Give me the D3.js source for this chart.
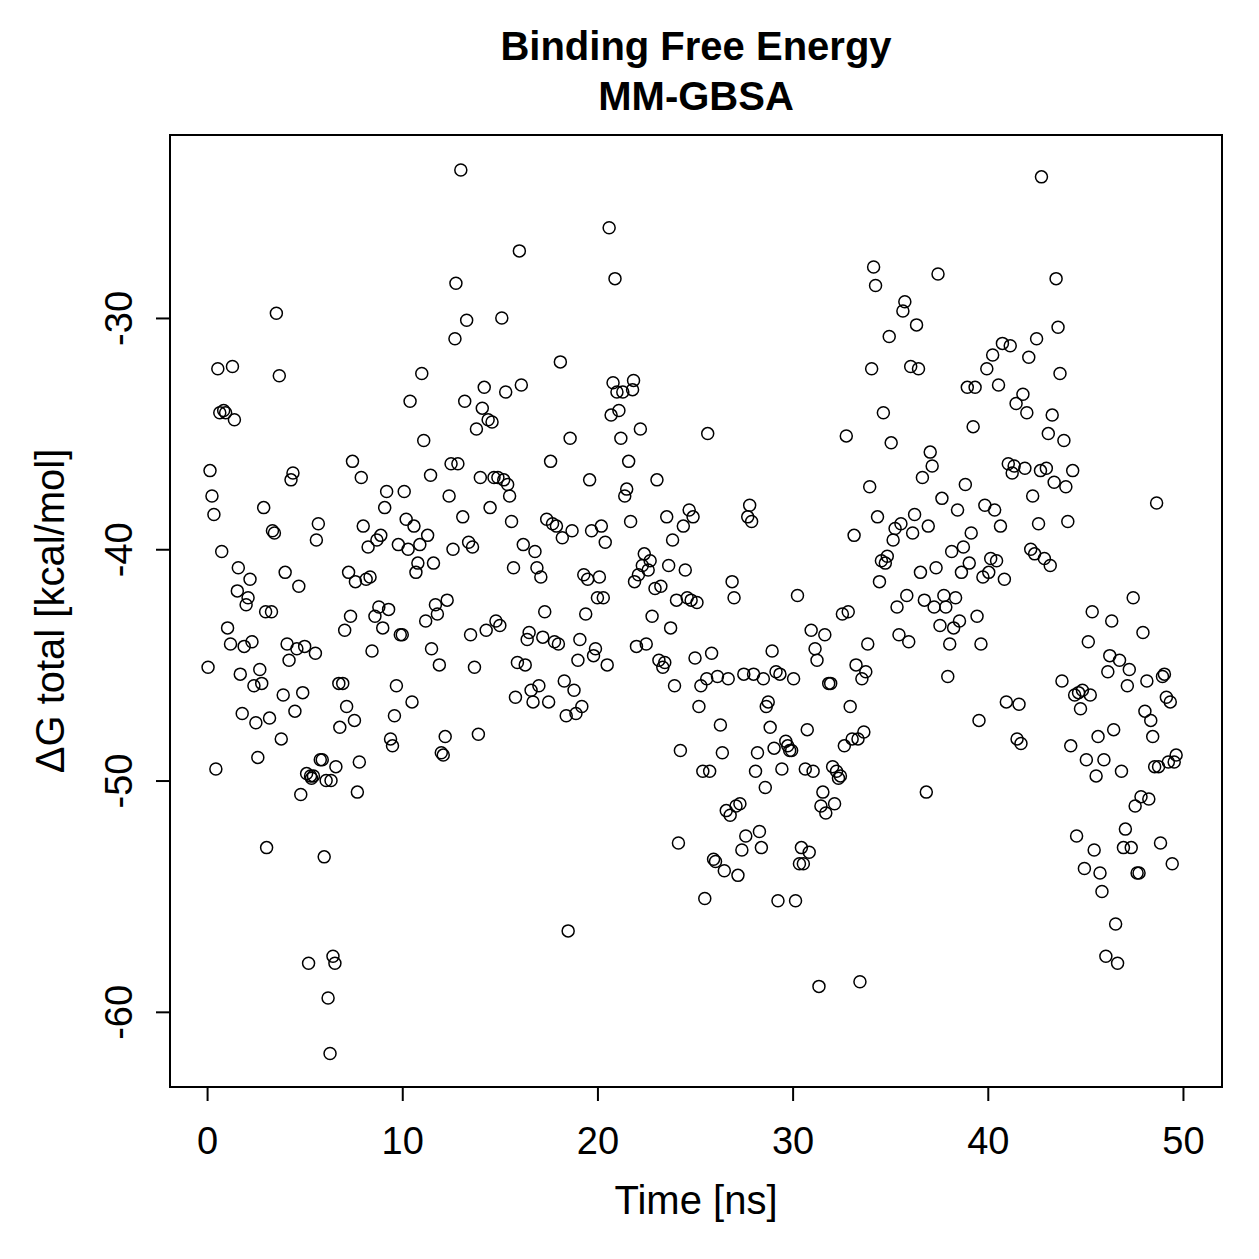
<!DOCTYPE html>
<html lang="en">
  <head>
    <meta charset="utf-8" />
    <title>Binding Free Energy</title>
    <style>
      body { margin: 0; background: #fff; }
      text { font-family: "Liberation Sans", Arial, sans-serif; fill: #000; }
    </style>
    <script src="https://d3js.org/d3.v7.min.js"></script>
  </head>
  <body>
    <script>
      // time in ns
      var timeNs = [
        0.05, 0.15, 0.25, 0.35, 0.45, 0.55, 0.65, 0.75, 0.85, 0.95,
        1.05, 1.2, 1.3, 1.4, 1.55, 1.6, 1.7, 1.8, 1.9, 2.0,
        2.1, 2.2, 2.3, 2.4, 2.5, 2.6, 2.7, 2.8, 2.9, 3.0,
        3.05, 3.2, 3.3, 3.35, 3.45, 3.55, 3.7, 3.8, 3.9, 4.0,
        4.1, 4.2, 4.3, 4.4, 4.5, 4.6, 4.7, 4.8, 4.9, 5.0,
        5.1, 5.2, 5.3, 5.35, 5.45, 5.55, 5.6, 5.7, 5.8, 5.9,
        6.0, 6.1, 6.2, 6.3, 6.35, 6.45, 6.55, 6.6, 6.75, 6.8,
        6.95, 7.05, 7.15, 7.25, 7.35, 7.45, 7.55, 7.6, 7.7, 7.8,
        7.9, 8.0, 8.15, 8.25, 8.35, 8.45, 8.6, 8.7, 8.8, 8.9,
        9.0, 9.1, 9.2, 9.3, 9.4, 9.5, 9.6, 9.7, 9.8, 9.9,
        10.0, 10.1, 10.2, 10.3, 10.4, 10.5, 10.6, 10.7, 10.8, 10.9,
        11.0, 11.1, 11.2, 11.3, 11.45, 11.5, 11.6, 11.7, 11.8, 11.9,
        12.0, 12.1, 12.2, 12.3, 12.4, 12.5, 12.6, 12.7, 12.75, 12.85,
        13.0, 13.1, 13.2, 13.3, 13.4, 13.5, 13.6, 13.7, 13.8, 13.9,
        14.0, 14.1, 14.2, 14.3, 14.4, 14.5, 14.6, 14.7, 14.8, 14.9,
        15.0, 15.1, 15.2, 15.3, 15.4, 15.5, 15.6, 15.7, 15.8, 15.9,
        16.0, 16.1, 16.2, 16.3, 16.4, 16.5, 16.6, 16.7, 16.8, 16.9,
        17.0, 17.1, 17.2, 17.3, 17.4, 17.5, 17.6, 17.7, 17.8, 17.9,
        18.0, 18.1, 18.2, 18.3, 18.4, 18.5, 18.6, 18.7, 18.8, 18.9,
        19.0, 19.1, 19.2, 19.3, 19.4, 19.5, 19.6, 19.7, 19.8, 19.9,
        20.0, 20.1, 20.2, 20.3, 20.4, 20.5, 20.6, 20.7, 20.8, 20.9,
        21.0, 21.1, 21.2, 21.3, 21.4, 21.5, 21.6, 21.7, 21.8, 21.85,
        21.9, 22.0, 22.1, 22.2, 22.3, 22.4, 22.5, 22.6, 22.7, 22.8,
        22.95, 23.05, 23.15, 23.25, 23.35, 23.45, 23.55, 23.65, 23.75, 23.85,
        23.95, 24.05, 24.15, 24.25, 24.4, 24.5, 24.6, 24.7, 24.8, 24.9,
        25.0, 25.1, 25.2, 25.3, 25.4, 25.5, 25.6, 25.65, 25.75, 25.85,
        25.95, 26.05, 26.15, 26.3, 26.4, 26.5, 26.6, 26.7, 26.8, 26.9,
        27.0, 27.1, 27.2, 27.3, 27.4, 27.5, 27.6, 27.7, 27.8, 27.9,
        28.0, 28.1, 28.2, 28.3, 28.4, 28.5, 28.6, 28.65, 28.75, 28.85,
        28.95, 29.05, 29.15, 29.25, 29.35, 29.45, 29.65, 29.75, 29.85, 29.95,
        30.05, 30.15, 30.25, 30.35, 30.45, 30.55, 30.65, 30.75, 30.85, 30.95,
        31.05, 31.15, 31.25, 31.35, 31.45, 31.55, 31.65, 31.7, 31.85, 31.95,
        32.05, 32.15, 32.25, 32.35, 32.45, 32.55, 32.65, 32.75, 32.85, 32.95,
        33.05, 33.15, 33.25, 33.35, 33.45, 33.55, 33.65, 33.75, 33.85, 33.95,
        34.05, 34.15, 34.25, 34.35, 34.45, 34.55, 34.65, 34.75, 34.85, 34.95,
        35.05, 35.15, 35.25, 35.35, 35.45, 35.55, 35.65, 35.75, 35.85, 35.95,
        36.05, 36.15, 36.25, 36.35, 36.45, 36.55, 36.65, 36.75, 36.85, 36.95,
        37.05, 37.15, 37.25, 37.35, 37.45, 37.55, 37.65, 37.75, 37.85, 37.95,
        38.05, 38.15, 38.25, 38.35, 38.45, 38.55, 38.65, 38.75, 38.85, 38.95,
        39.05, 39.15, 39.25, 39.35, 39.45, 39.55, 39.65, 39.75, 39.85, 39.95,
        40.05, 40.15, 40.25, 40.35, 40.45, 40.55, 40.65, 40.75, 40.85, 40.95,
        41.05, 41.15, 41.25, 41.35, 41.45, 41.5, 41.6, 41.7, 41.8, 41.9,
        42.0, 42.1, 42.2, 42.3, 42.4, 42.5, 42.6, 42.7, 42.75, 42.9,
        43.0, 43.1, 43.2, 43.3, 43.4, 43.5, 43.6, 43.7, 43.8, 43.9,
        44.0, 44.1, 44.25, 44.35, 44.45, 44.55, 44.65, 44.75, 44.85, 44.95,
        45.05, 45.15, 45.25, 45.35, 45.45, 45.55, 45.65, 45.75, 45.85, 45.95,
        46.05, 46.15, 46.25, 46.35, 46.45, 46.55, 46.65, 46.75, 46.85, 46.95,
        47.05, 47.15, 47.25, 47.35, 47.45, 47.55, 47.65, 47.75, 47.85, 47.95,
        48.05, 48.15, 48.25, 48.35, 48.45, 48.55, 48.65, 48.75, 48.85, 48.95,
        49.05, 49.15, 49.25, 49.35, 49.45, 49.55, 49.65
      ];

      // delta G total in kcal/mol, same order as timeNs
      var dGtotal = [
        -45.1, -36.6, -37.7, -38.5, -49.5, -32.2, -34.1, -40.1, -34.0, -34.1,
        -43.4, -44.1, -32.1, -34.4, -41.8, -40.8, -45.4, -47.1, -44.2, -42.4,
        -42.1, -41.3, -44.0, -45.9, -47.5, -49.0, -45.2, -45.8, -38.2, -42.7,
        -52.9, -47.3, -42.7, -39.2, -39.3, -29.8, -32.5, -48.2, -46.3, -41.0,
        -44.1, -44.8, -37.0, -36.7, -47.0, -44.3, -41.6, -50.6, -46.2, -44.2,
        -49.7, -57.9, -49.8, -49.9, -49.8, -44.5, -39.6, -38.9, -49.1, -49.1,
        -53.3, -50.0, -59.4, -61.8, -50.0, -57.6, -57.9, -49.4, -45.8, -47.7,
        -45.8, -43.5, -46.8, -41.0, -42.9, -36.2, -47.4, -41.4, -50.5, -49.2,
        -36.9, -39.0, -41.3, -39.9, -41.2, -44.4, -42.9, -39.6, -42.5, -39.4,
        -43.4, -38.2, -37.5, -42.6, -48.2, -48.5, -47.2, -45.9, -39.8, -43.7,
        -43.7, -37.5, -38.7, -40.0, -33.6, -46.6, -39.0, -41.0, -40.6, -39.8,
        -32.4, -35.3, -43.1, -39.4, -36.8, -44.3, -40.6, -42.4, -42.8, -45.0,
        -48.8, -48.9, -48.1, -42.2, -37.7, -36.3, -40.0, -30.9, -28.5, -36.3,
        -23.6, -38.6, -33.6, -30.1, -39.7, -43.7, -39.9, -45.1, -34.8, -48.0,
        -36.9, -33.9, -33.0, -43.5, -34.4, -38.2, -34.5, -36.9, -43.1, -36.9,
        -43.3, -30.0, -37.0, -33.2, -37.2, -37.7, -38.8, -40.8, -46.4, -44.9,
        -27.1, -32.9, -39.8, -45.0, -43.9, -43.6, -46.1, -46.6, -40.1, -40.8,
        -45.9, -41.2, -43.8, -42.7, -38.7, -46.6, -36.2, -38.9, -44.0, -39.0,
        -44.1, -31.9, -39.5, -45.7, -47.2, -56.5, -35.2, -39.2, -46.1, -47.1,
        -44.8, -43.9, -46.8, -41.1, -42.8, -41.3, -37.0, -39.2, -44.6, -44.3,
        -42.1, -41.2, -39.0, -42.1, -39.7, -45.0, -26.1, -34.2, -32.8, -28.3,
        -33.2, -34.0, -35.2, -33.2, -37.7, -37.4, -36.2, -38.8, -33.1, -32.7,
        -41.4, -44.2, -41.1, -34.8, -40.7, -40.2, -44.1, -40.9, -40.5, -42.9,
        -41.7, -37.0, -44.8, -41.6, -45.1, -44.9, -38.6, -40.7, -43.4, -39.6,
        -45.9, -42.2, -52.7, -48.7, -39.0, -40.9, -42.1, -38.3, -42.2, -38.6,
        -44.7, -42.3, -46.8, -45.9, -49.6, -55.1, -45.6, -35.0, -49.6, -44.5,
        -53.4, -53.5, -45.5, -47.6, -48.8, -53.9, -51.3, -45.6, -51.5, -41.4,
        -42.1, -51.1, -54.1, -51.0, -53.0, -45.4, -52.4, -38.6, -38.1, -38.8,
        -45.4, -49.6, -48.8, -52.2, -52.9, -45.6, -50.3, -46.8, -46.6, -47.7,
        -44.4, -48.6, -45.3, -55.2, -45.4, -49.5, -48.3, -48.5, -48.7, -48.7,
        -45.6, -55.2, -42.0, -53.6, -52.9, -53.6, -49.5, -47.8, -53.1, -43.5,
        -49.6, -44.3, -44.8, -58.9, -51.1, -50.5, -43.7, -51.4, -45.8, -45.8,
        -49.4, -51.0, -49.6, -49.9, -49.8, -42.8, -48.5, -35.1, -42.7, -46.8,
        -48.2, -39.4, -45.0, -48.2, -58.7, -45.6, -47.9, -45.3, -44.1, -37.3,
        -32.2, -27.8, -28.6, -38.6, -41.4, -40.5, -34.1, -40.6, -40.3, -30.8,
        -35.4, -39.6, -39.1, -42.5, -43.7, -38.9, -29.7, -29.3, -42.0, -44.0,
        -32.1, -39.3, -38.5, -30.3, -32.2, -41.0, -36.9, -42.2, -50.5, -39.0,
        -35.8, -36.4, -42.5, -40.8, -28.1, -43.3, -37.8, -42.0, -42.5, -45.5,
        -44.1, -40.1, -43.4, -42.1, -38.3, -43.1, -41.0, -39.9, -37.2, -33.0,
        -40.6, -39.3, -34.7, -33.0, -42.9, -47.4, -44.1, -41.2, -38.1, -32.2,
        -41.0, -40.4, -31.6, -38.3, -40.5, -32.9, -39.0, -31.1, -41.3, -46.6,
        -36.3, -31.2, -36.7, -36.4, -33.7, -48.2, -46.7, -48.4, -33.3, -36.5,
        -34.1, -31.7, -40.0, -37.7, -40.2, -30.9, -38.9, -36.6, -23.9, -40.4,
        -36.5, -35.0, -40.7, -34.2, -37.1, -28.3, -30.4, -32.4, -45.7, -35.3,
        -37.3, -38.8, -48.5, -36.6, -46.3, -52.4, -46.2, -46.9, -46.1, -53.8,
        -49.1, -44.0, -46.3, -42.7, -53.0, -49.8, -48.1, -54.0, -54.8, -49.1,
        -57.6, -45.3, -44.6, -43.1, -47.8, -56.2, -57.9, -44.8, -49.6, -52.9,
        -52.1, -45.9, -45.2, -52.9, -42.1, -51.1, -54.0, -54.0, -50.7, -43.6,
        -47.0, -45.7, -50.8, -47.4, -48.1, -49.4, -38.0, -49.4, -52.7, -45.5,
        -45.4, -46.4, -49.2, -46.6, -53.6, -49.2, -48.9
      ];

      var xTicks = [0, 10, 20, 30, 40, 50];
      var yTicks = [-30, -40, -50, -60];
      var titleLines = ["Binding Free Energy", "MM-GBSA"];

      var W = 1259, H = 1259;
      var box = { left: 170, right: 1222, top: 135, bottom: 1087 };
      var fontSize = "40px";
      var tickSize = "38px";

      var svg = d3
        .select("body")
        .append("svg")
        .attr("width", W)
        .attr("height", H);

      // R style padding of 4% around the data range
      var x = d3.scaleLinear().domain([-1.9, 52.0]).range([box.left, box.right]);
      var y = d3.scaleLinear().domain([-63.25, -22.09]).range([box.bottom, box.top]);

      // plain hyphen for negatives, like R
      function plain(d) {
        return String(d);
      }

      svg
        .append("rect")
        .attr("x", box.left)
        .attr("y", box.top)
        .attr("width", box.right - box.left)
        .attr("height", box.bottom - box.top)
        .attr("fill", "none")
        .attr("stroke", "#000")
        .attr("stroke-width", 2);

      // x axis
      var xAxis = d3.axisBottom(x).tickValues(xTicks).tickSize(14).tickFormat(plain);
      var gx = svg
        .append("g")
        .attr("transform", "translate(0," + box.bottom + ")")
        .call(xAxis);
      gx.select(".domain").remove();
      gx.selectAll("line").attr("stroke", "#000").attr("stroke-width", 2);
      gx.selectAll("text")
        .attr("y", 67)
        .attr("dy", null)
        .style("font-size", tickSize)
        .style("font-family", "'Liberation Sans', Arial, sans-serif");

      // y axis, labels turned like R default
      var yAxis = d3.axisLeft(y).tickValues(yTicks).tickSize(14).tickFormat(plain);
      var gy = svg
        .append("g")
        .attr("transform", "translate(" + box.left + ",0)")
        .call(yAxis);
      gy.select(".domain").remove();
      gy.selectAll("line").attr("stroke", "#000").attr("stroke-width", 2);
      gy.selectAll("text")
        .attr("x", null)
        .attr("dy", null)
        .attr("transform", "translate(-38,0) rotate(-90)")
        .attr("text-anchor", "middle")
        .style("font-size", tickSize)
        .style("font-family", "'Liberation Sans', Arial, sans-serif");

      // points
      var points = timeNs.map(function (t, i) {
        return [t, dGtotal[i]];
      });
      svg
        .append("g")
        .selectAll("circle")
        .data(points)
        .enter()
        .append("circle")
        .attr("cx", function (d) {
          return x(d[0]);
        })
        .attr("cy", function (d) {
          return y(d[1]);
        })
        .attr("r", 6)
        .attr("fill", "none")
        .attr("stroke", "#000")
        .attr("stroke-width", 1.5);

      // titles
      var cx = (box.left + box.right) / 2;
      svg
        .selectAll(".title")
        .data(titleLines)
        .enter()
        .append("text")
        .attr("class", "title")
        .attr("x", cx)
        .attr("y", function (d, i) {
          return 60 + i * 50;
        })
        .attr("text-anchor", "middle")
        .style("font-size", fontSize)
        .style("font-weight", "bold")
        .text(function (d) {
          return d;
        });

      svg
        .append("text")
        .attr("x", cx)
        .attr("y", 1214)
        .attr("text-anchor", "middle")
        .style("font-size", fontSize)
        .text("Time [ns]");

      svg
        .append("text")
        .attr("transform", "translate(64," + (box.top + box.bottom) / 2 + ") rotate(-90)")
        .attr("text-anchor", "middle")
        .style("font-size", fontSize)
        .text("\u0394G total [kcal/mol]");
    </script>
  </body>
</html>
